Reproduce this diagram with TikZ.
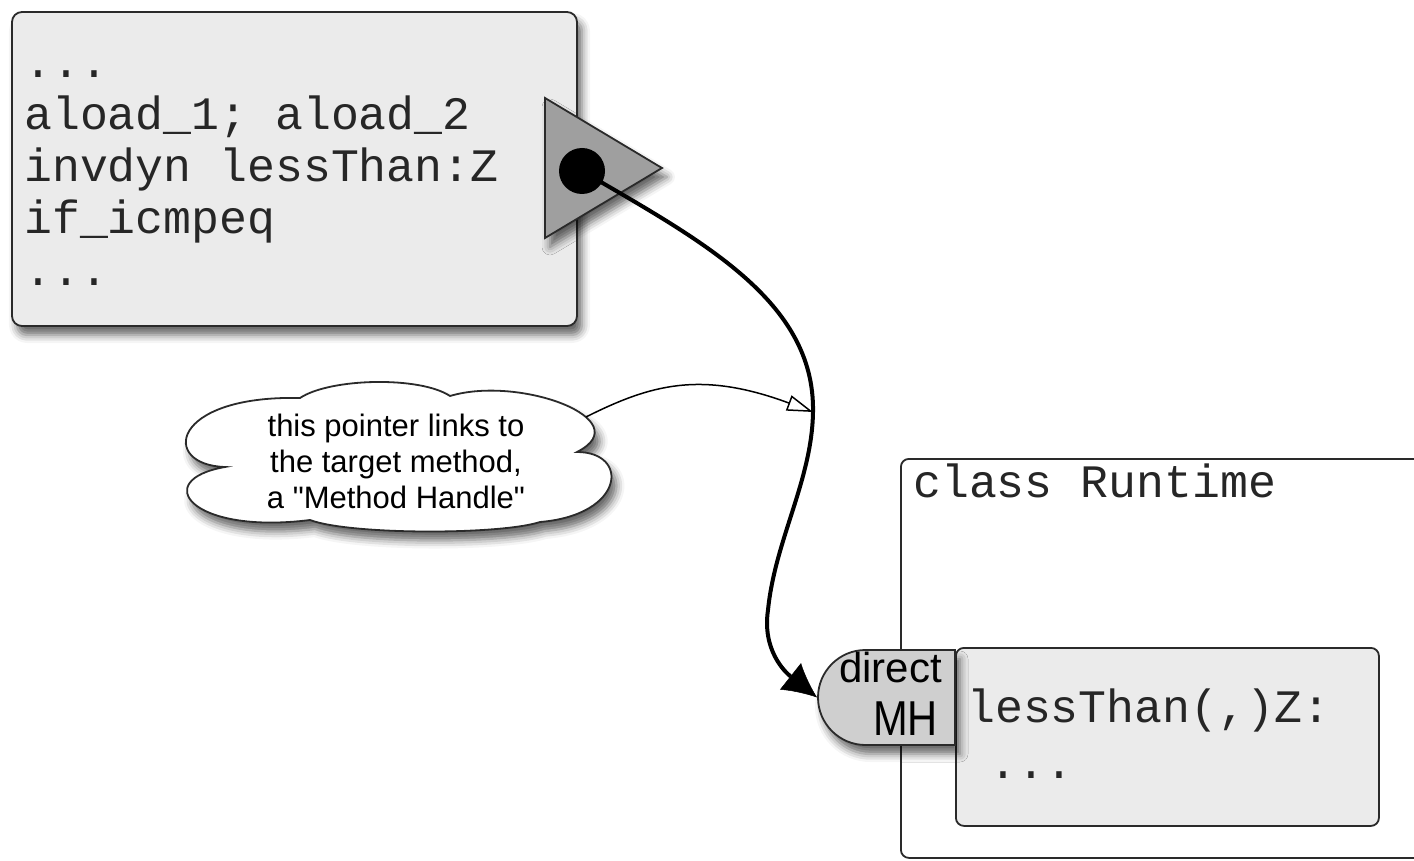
\documentclass[tikz,border=0pt]{standalone}
\usepackage{fontspec}
\setmainfont{Liberation Sans}[Ligatures=TeXOff]
\newfontfamily\codefont{Liberation Mono}
\usetikzlibrary{shapes.misc,shadows.blur,arrows.meta}

\definecolor{boxgray}{HTML}{EBEBEB}
\definecolor{trigray}{HTML}{9F9F9F}
\definecolor{mhgray}{HTML}{CFCFCF}
\definecolor{edge}{HTML}{2A2A2A}

\begin{document}
\begin{tikzpicture}[x=1pt,y=-1pt,
  code/.style={font=\codefont\fontsize{46.5}{52}\selectfont, text=black!85, inner sep=0pt, anchor=base west},
  panel/.style={draw=edge, line width=1.8pt, rounded corners=10pt, fill=boxgray},
  softshadow/.style={blur shadow={shadow xshift=5pt, shadow yshift=-9pt,
      shadow blur radius=8pt, shadow opacity=60}},
  sans/.style={inner sep=0pt, anchor=base east},
]
\useasboundingbox (0,0) rectangle (1414,861);
\clip (0,0) rectangle (1414,861);

% calling code
\node[panel, softshadow, minimum width=565pt, minimum height=314pt] (bytecode) at (294.5,169) {};
\node[code] (l1) at (24,78)  {...};
\node[code] (l2) at (24,130) {aload\_1; aload\_2};
\node[code] (l3) at (24,182) {invdyn lessThan:Z};
\node[code] (l4) at (24,234) {if\_icmpeq};
\node[code] (l5) at (24,286) {...};

% call site port
\draw[fill=trigray, draw=edge, line width=1.8pt, softshadow] (545,98) -- (662,168) -- (545,238) -- cycle;
\node[circle, fill=black, minimum size=46pt, inner sep=0pt] (dot) at (582,171) {};

% runtime class with the target method
\node[draw=edge, line width=1.8pt, rounded corners=8pt, fill=white,
      minimum width=540pt, minimum height=399pt, anchor=north west] (runtime) at (900,458) {};
\node[code] (cls) at (913,497) {class Runtime};

\node[panel, rounded corners=8pt, minimum width=423pt, minimum height=178pt, anchor=north west] (method) at (955,647) {};
\node[code] (m1) at (967,722) {lessThan(,)Z:};
\node[code] (m2) at (989,778) {...};

% direct method handle
\node[rounded rectangle, rounded rectangle right arc=none, draw=edge, line width=1.8pt,
      fill=mhgray, softshadow, minimum width=137pt, minimum height=95pt, inner sep=0pt] (mh) at (886.5,697.5) {};
\node[sans, font=\fontsize{42}{44}\selectfont] (mhdirect) at (942,682) {direct};
\node[sans, font=\fontsize{49}{50}\selectfont] (mhname) at (938,735) {\scalebox{0.85}[1]{MH}};

% pointer from the call site to the method handle
\coordinate (hit) at (813,412);
\coordinate (bend) at (768,610);
\draw[line width=4pt, -{Latex[length=34pt,width=34pt,fill=black,line width=0.5pt]}]
  (dot.center) .. controls (700,240) and (815,300) .. (hit)
  .. controls (812,480) and (775,540) .. (bend)
  .. controls (762,650) and (785,672) .. (mh.west);

% explanatory note: a cloud of six puffs round the text
\draw[draw=edge, line width=1.8pt, fill=white, softshadow]
  (225,467) .. controls (160,465) and (170,395) .. (300,398)
            .. controls (330,378) and (420,376) .. (450,396)
            .. controls (520,375) and (640,420) .. coordinate[pos=0.65] (notetip) (577,452)
            .. controls (630,452) and (625,515) .. (540,522)
            .. controls (500,535) and (350,535) .. (310,520)
            .. controls (190,535) and (150,480) .. cycle;
\node[align=center, inner sep=0pt, font=\fontsize{31}{36}\selectfont] (note) at (396,461)
  {this pointer links to\\the target method,\\a "Method Handle"};
\draw[line width=1.5pt, -{Triangle[length=26pt,width=16pt,fill=white]}]
  (notetip) .. controls (650,385) and (700,370) .. (hit);
\end{tikzpicture}
\end{document}
